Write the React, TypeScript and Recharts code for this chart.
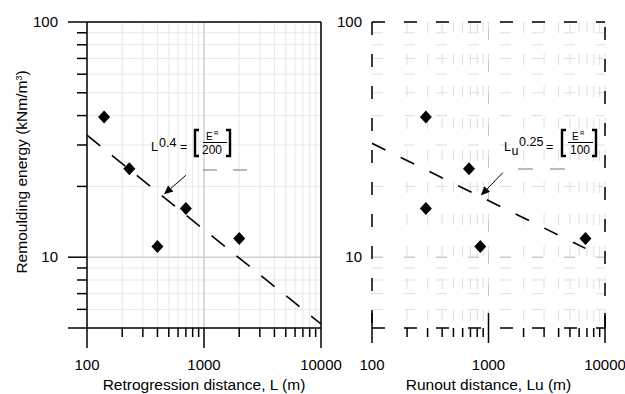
import { ScatterChart, Scatter, XAxis, YAxis, CartesianGrid, ReferenceLine, Label } from 'recharts';

// axis ticks (log scales)
const X_TICKS = [100, 200, 300, 400, 500, 600, 700, 800, 900, 1000, 2000, 3000, 4000, 5000, 6000, 7000, 8000, 9000, 10000];
const X_LABELS = [100, 1000, 10000];
const Y_TICKS = [5, 6, 7, 8, 9, 10, 20, 30, 40, 50, 60, 70, 80, 90, 100];
const Y_LABELS = [10, 100];
const Y_LONG = [5, 10, 100];

// retrogression distance L (m) vs remoulding energy
const retroPoints = [
  { x: 140, y: 39.5 },
  { x: 230, y: 23.8 },
  { x: 400, y: 11.1 },
  { x: 700, y: 16.1 },
  { x: 2000, y: 12 },
];
const retroTrend = [
  { x: 100, y: 33 },
  { x: 10000, y: 5.2 },
];
const retroArrow = [
  { x: 700, y: 22.3 },
  { x: 455, y: 18.5 },
];

// runout distance Lu (m) vs remoulding energy
const runoutPoints = [
  { x: 290, y: 39.5 },
  { x: 680, y: 23.8 },
  { x: 290, y: 16.1 },
  { x: 850, y: 11.1 },
  { x: 6800, y: 12 },
];
const runoutTrend = [
  { x: 100, y: 30.5 },
  { x: 6800, y: 10.9 },
];
const runoutArrow = [
  { x: 1330, y: 22.9 },
  { x: 860, y: 18.3 },
];

const AXIS_DASH = '13 19';
const GRID_DASH = '11 21';

const Diamond = (p: any) => (
  <path
    d={`M${p.cx},${p.cy - 6.5}L${p.cx + 6},${p.cy}L${p.cx},${p.cy + 6.5}L${p.cx - 6},${p.cy}Z`}
    fill="#000"
  />
);

const NoDot = () => <g />;

const Arrow = (p: any) => {
  const { x1, y1, x2, y2 } = p;
  const ang = Math.atan2(y2 - y1, x2 - x1);
  const len = 9;
  const w = 4;
  const bx = x2 - len * Math.cos(ang);
  const by = y2 - len * Math.sin(ang);
  const px = -Math.sin(ang) * w;
  const py = Math.cos(ang) * w;
  return (
    <g>
      <line x1={x1} y1={y1} x2={bx} y2={by} stroke="#000" strokeWidth={1} />
      <path d={`M${x2},${y2}L${bx + px},${by + py}L${bx - px},${by - py}Z`} fill="#000" />
    </g>
  );
};

const makeXTick = (dashed: boolean) => (props: any) => {
  const { x, y, payload } = props;
  const v = payload.value;
  const major = X_LABELS.includes(v);
  const top = major && dashed ? y - 15 : y;
  const bottom = y + (major ? (dashed ? 15 : 20) : 9);
  return (
    <g>
      <line x1={x} x2={x} y1={top} y2={bottom} stroke="#000" strokeWidth={1.5} />
      {major && (
        <text x={x} y={y + 42} textAnchor="middle" fontSize={15} fill="#000">
          {v}
        </text>
      )}
    </g>
  );
};

const LeftYTick = (props: any) => {
  const { x, y, payload } = props;
  const v = payload.value;
  const long = Y_LONG.includes(v);
  return (
    <g>
      <line x1={x - (long ? 19 : 10)} x2={x} y1={y} y2={y} stroke="#000" strokeWidth={1.5} />
      {Y_LABELS.includes(v) && (
        <text x={x - 29} y={y + 5} textAnchor="end" fontSize={15} fill="#000">
          {v}
        </text>
      )}
    </g>
  );
};

const RightYTick = (props: any) => {
  const { x, y, payload } = props;
  const v = payload.value;
  if (!Y_LABELS.includes(v)) return <g />;
  return (
    <text x={x - 10} y={y + 5} textAnchor="end" fontSize={15} fill="#000">
      {v}
    </text>
  );
};

const Bracket = ({ x, side }: { x: number; side: 'l' | 'r' }) => {
  const arm = side === 'l' ? 4 : -4;
  return (
    <path
      d={`M${x + arm},130L${x},130L${x},156L${x + arm},156`}
      fill="none"
      stroke="#000"
      strokeWidth={2.4}
    />
  );
};

function Annotations() {
  return (
    <svg width={625} height={394} style={{ position: 'absolute', left: 0, top: 0, pointerEvents: 'none' }}>
      <text
        x={27}
        y={172}
        transform="rotate(-90 27 172)"
        textAnchor="middle"
        fontSize={15.5}
        fill="#000"
      >
        Remoulding energy (kNm/m<tspan dy={-5} fontSize={9}>3</tspan>
        <tspan dy={5}>)</tspan>
      </text>

      {/* left formula */}
      <text x={151} y={151} fontSize={12.5} fill="#000">L</text>
      <text x={159} y={147} fontSize={12.5} fill="#000">0.4</text>
      <text x={180} y={151} fontSize={12.5} fill="#000">=</text>
      <Bracket x={195} side="l" />
      <text x={206} y={139.5} fontSize={10} fill="#000">E</text>
      <text x={214} y={135} fontSize={6} fill="#000">R</text>
      <line x1={203} x2={227} y1={142.5} y2={142.5} stroke="#000" strokeWidth={1} />
      <text x={202} y={154} fontSize={12} fill="#000">200</text>
      <Bracket x={230} side="r" />
      <line x1={203} x2={250} y1={170} y2={170} stroke="#777" strokeWidth={1.2} strokeDasharray="14 16" />

      {/* right formula */}
      <text x={504} y={151} fontSize={12.5} fill="#000">L</text>
      <text x={511.5} y={155} fontSize={12.5} fill="#000">u</text>
      <text x={519} y={146} fontSize={12.5} fill="#000">0.25</text>
      <text x={546} y={151} fontSize={12.5} fill="#000">=</text>
      <Bracket x={562} side="l" />
      <text x={572} y={139.5} fontSize={10} fill="#000">E</text>
      <text x={580} y={135} fontSize={6} fill="#000">R</text>
      <line x1={568} x2={593} y1={142.5} y2={142.5} stroke="#000" strokeWidth={1} />
      <text x={570} y={154} fontSize={12} fill="#000">100</text>
      <Bracket x={596} side="r" />
      <line x1={518} x2={566} y1={169} y2={169} stroke="#777" strokeWidth={1.2} strokeDasharray="15 17" />
    </svg>
  );
}

export default function App() {
  return (
    <div
      style={{
        position: 'absolute',
        left: 0,
        top: 0,
        width: 625,
        height: 394,
        background: '#fff',
        fontFamily: 'Arial, "Liberation Sans", sans-serif',
      }}
    >
      {/* Left panel: retrogression distance */}
      <div style={{ position: 'absolute', left: 0, top: 0 }}>
        <ScatterChart width={350} height={394} margin={{ top: 22, right: 29, bottom: 0, left: 0 }}>
          <CartesianGrid stroke="#e8e8e8" strokeWidth={1} />
          <XAxis
            dataKey="x"
            type="number"
            scale="log"
            domain={[100, 10000]}
            allowDataOverflow
            ticks={X_TICKS}
            interval={0}
            height={66}
            tickSize={0}
            tickMargin={0}
            tickLine={false}
            tick={makeXTick(false)}
            axisLine={{ stroke: '#000', strokeWidth: 1.5 }}
          >
            <Label value="Retrogression distance, L (m)" position="insideBottom" offset={4} fontSize={15.5} fill="#000" />
          </XAxis>
          <YAxis
            dataKey="y"
            type="number"
            scale="log"
            domain={[5, 100]}
            allowDataOverflow
            ticks={Y_TICKS}
            interval={0}
            width={87}
            tickSize={0}
            tickMargin={0}
            tickLine={false}
            tick={LeftYTick}
            axisLine={{ stroke: '#000', strokeWidth: 1.5 }}
          />
          <ReferenceLine x={1000} stroke="#c2c2c2" strokeWidth={1} />
          <ReferenceLine y={10} stroke="#c2c2c2" strokeWidth={1} />
          <ReferenceLine y={100} stroke="#000" strokeWidth={1.5} />
          <ReferenceLine x={10000} stroke="#000" strokeWidth={1.5} />
          <ReferenceLine segment={retroArrow} shape={Arrow} />
          <Scatter
            data={retroTrend}
            line={{ stroke: '#000', strokeWidth: 1.6, strokeDasharray: '17 15' }}
            shape={NoDot}
            isAnimationActive={false}
          />
          <Scatter data={retroPoints} shape={Diamond} isAnimationActive={false} />
        </ScatterChart>
      </div>

      {/* Right panel: runout distance */}
      <div style={{ position: 'absolute', left: 325, top: 0 }}>
        <ScatterChart width={300} height={394} margin={{ top: 22, right: 20, bottom: 0, left: 0 }}>
          <CartesianGrid stroke="#dedede" strokeWidth={1} strokeDasharray={GRID_DASH} />
          <XAxis
            dataKey="x"
            type="number"
            scale="log"
            domain={[100, 10000]}
            allowDataOverflow
            ticks={X_TICKS}
            interval={0}
            height={66}
            tickSize={0}
            tickMargin={0}
            tickLine={false}
            tick={makeXTick(true)}
            axisLine={{ stroke: '#000', strokeWidth: 1.5, strokeDasharray: AXIS_DASH }}
          >
            <Label value="Runout distance, Lu (m)" position="insideBottom" offset={4} fontSize={15.5} fill="#000" />
          </XAxis>
          <YAxis
            dataKey="y"
            type="number"
            scale="log"
            domain={[5, 100]}
            allowDataOverflow
            ticks={Y_TICKS}
            interval={0}
            width={47}
            tickSize={0}
            tickMargin={0}
            tickLine={false}
            tick={RightYTick}
            axisLine={{ stroke: '#000', strokeWidth: 1.5, strokeDasharray: AXIS_DASH }}
          />
          <ReferenceLine x={1000} stroke="#c2c2c2" strokeWidth={1} strokeDasharray={GRID_DASH} />
          <ReferenceLine y={10} stroke="#c2c2c2" strokeWidth={1} strokeDasharray={GRID_DASH} />
          <ReferenceLine y={100} stroke="#000" strokeWidth={1.5} strokeDasharray={AXIS_DASH} />
          <ReferenceLine x={10000} stroke="#000" strokeWidth={1.5} strokeDasharray={AXIS_DASH} />
          <ReferenceLine segment={runoutArrow} shape={Arrow} />
          <Scatter
            data={runoutTrend}
            line={{ stroke: '#000', strokeWidth: 1.6, strokeDasharray: '15 17' }}
            shape={NoDot}
            isAnimationActive={false}
          />
          <Scatter data={runoutPoints} shape={Diamond} isAnimationActive={false} />
        </ScatterChart>
      </div>

      <Annotations />
    </div>
  );
}
